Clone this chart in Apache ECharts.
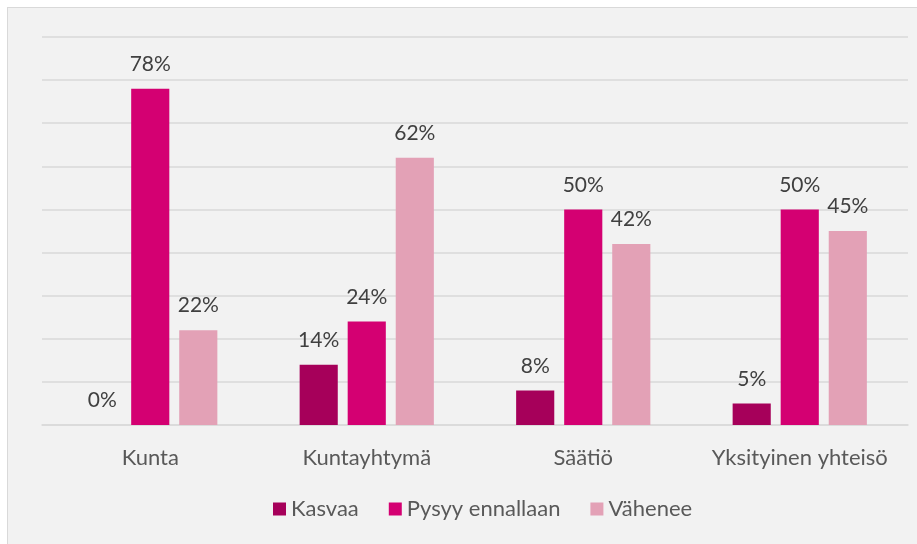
<!DOCTYPE html>
<html><head><meta charset="utf-8">
<script src="https://cdn.jsdelivr.net/npm/echarts@6/dist/echarts.min.js"></script>
<style>
html,body{margin:0;padding:0;background:#fff;}
#frame{position:absolute;left:7px;top:7px;width:920px;height:545px;background:#f2f2f2;border:1px solid #d9d9d9;}
#c{position:absolute;left:0;top:0;width:917px;height:544px;}
</style></head>
<body><div id="frame"></div><div id="c"></div>
<script>
const categories = ['Kunta', 'Kuntayhtymä', 'Säätiö', 'Yksityinen yhteisö'];
const seriesNames = ['Kasvaa', 'Pysyy ennallaan', 'Vähenee'];
const kasvaa = [0, 14, 8, 5];
const pysyy = [78, 24, 50, 50];
const vahenee = [22, 62, 42, 45];
const colors = ['#a6005a', '#d40072', '#e3a1b6'];

const font = 'Lato, "Open Sans", sans-serif';
const chart = echarts.init(document.getElementById('c'), null, {renderer: 'canvas'});
const mk = (name, data, color) => ({
  name, type: 'bar', data, barGap: '26%', barCategoryGap: '38%',
  itemStyle: {color},
  label: {show: true, position: 'top', distance: 14, formatter: '{c}%', color: '#404040', fontSize: 21, fontFamily: font}
});
chart.setOption({
  backgroundColor: 'transparent',
  animation: false,
  textStyle: {fontFamily: font},
  grid: {left: 42, right: 9, top: 37, bottom: 119},
  legend: {
    data: seriesNames, bottom: 19, left: 268,
    itemWidth: 13, itemHeight: 13, icon: 'rect', itemGap: 30,
    textStyle: {color: '#595959', fontSize: 22, fontFamily: font}
  },
  xAxis: {
    type: 'category', data: categories,
    axisLine: {lineStyle: {color: '#d9d9d9', width: 1.5}},
    axisTick: {show: false},
    axisLabel: {color: '#595959', fontSize: 22, margin: 22, interval: 0, fontFamily: font}
  },
  yAxis: {
    type: 'value', min: 0, max: 90, interval: 10,
    axisLabel: {show: false}, axisLine: {show: false}, axisTick: {show: false},
    splitLine: {lineStyle: {color: '#d9d9d9', width: 1.5}}
  },
  series: [mk(seriesNames[0], kasvaa, colors[0]), mk(seriesNames[1], pysyy, colors[1]), mk(seriesNames[2], vahenee, colors[2])]
});
</script></body></html>
